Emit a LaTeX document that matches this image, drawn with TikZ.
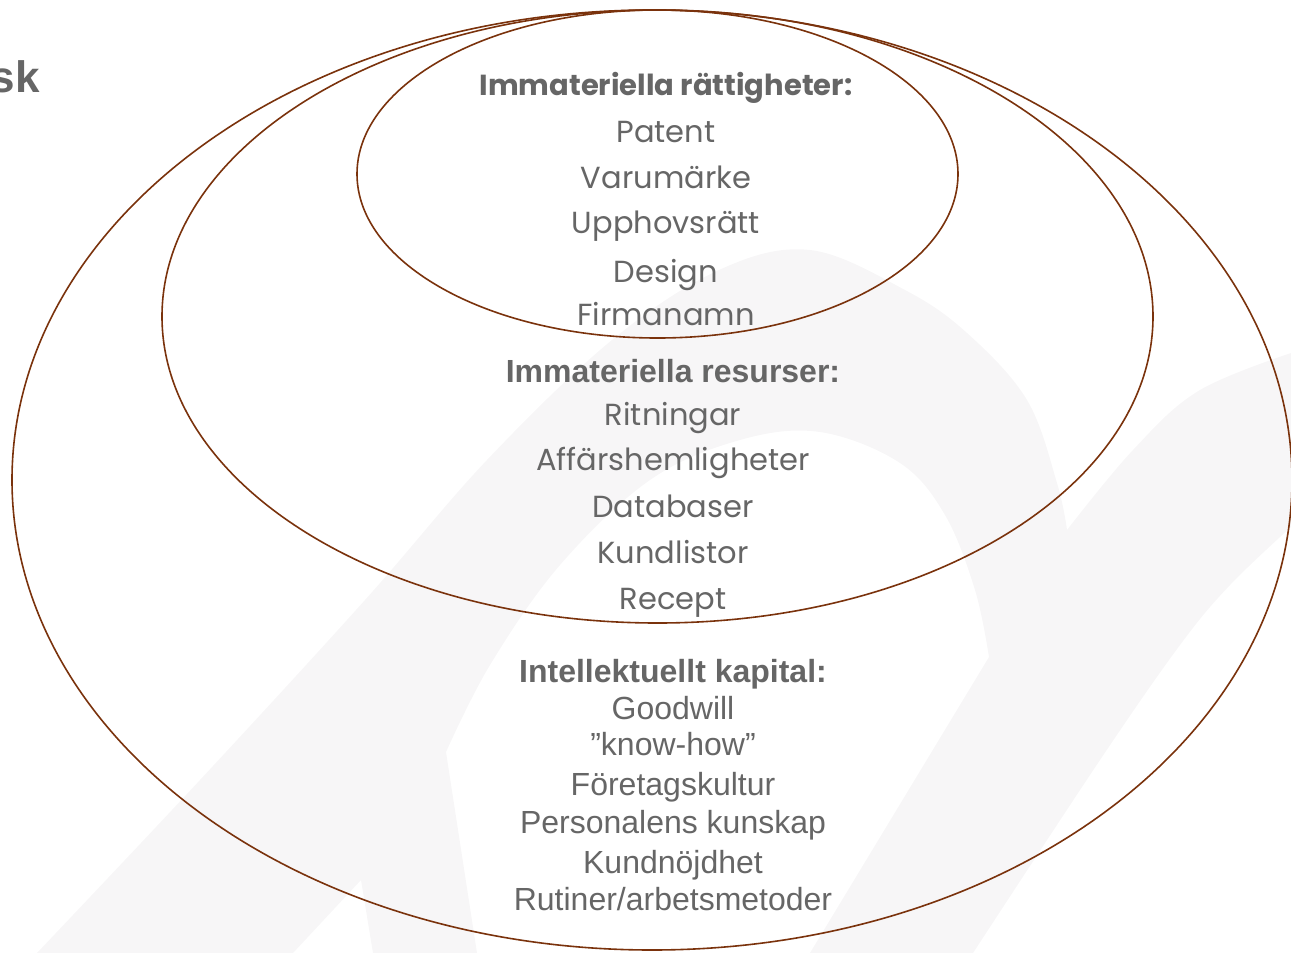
\documentclass[tikz,border=0pt]{standalone}
\usepackage{fontspec}
\setmainfont{Liberation Sans}
\newfontfamily\gothic{Poppins}
\definecolor{ring}{RGB}{122,50,12}
\definecolor{txt}{RGB}{102,102,102}
\definecolor{wm}{RGB}{247,246,247}
\tikzset{
  ringline/.style={draw=ring, line width=1.6pt},
  gothhead/.style={anchor=base, inner sep=0pt, text=txt, font=\gothic\bfseries\fontsize{29}{31}\selectfont},
  gothitem/.style={anchor=base, inner sep=0pt, text=txt, font=\gothic\fontsize{30.5}{32}\selectfont},
  arialhead/.style={anchor=base, inner sep=0pt, text=txt, font=\bfseries\fontsize{32}{34}\selectfont},
  arialitem/.style={anchor=base, inner sep=0pt, text=txt, font=\fontsize{32}{34}\selectfont},
}
\begin{document}
\begin{tikzpicture}[x=1pt,y=-1pt]
\useasboundingbox (0,0) rectangle (1291,953);
\begin{scope}
\clip (0,0) rectangle (1291,953);
% faint watermark
\fill[wm] plot[smooth, tension=0.6] coordinates {(37,953) (200,780) (365,600) (487,460) (612,340) (719,270) (810,250) (905,290) (967,333) (1027,400) (1057,483) (1067,530)}
  -- plot[smooth, tension=0.6] coordinates {(1067,530) (1133,450) (1200,390) (1300,350)}
  -- (1300,520)
  -- plot[smooth, tension=0.6] coordinates {(1291,527) (1230,585) (1180,645) (1100,760) (973,953)}
  -- (810,953) -- (989,657)
  -- plot[smooth, tension=0.6] coordinates {(989,657) (975,590) (945,515) (900,463) (820,432) (740,440) (650,480) (560,565) (490,665) (446,752)}
  -- (477,953) -- (373,953) -- (361,880) -- (293,953) -- cycle;
% rings
\draw[ringline] (652,480) ellipse [x radius=640pt, y radius=470pt];
\draw[ringline] (657.5,316.5) ellipse [x radius=495.5pt, y radius=306.5pt];
\draw[ringline] (657.5,174) ellipse [x radius=300.5pt, y radius=164pt];
\end{scope}
% cut-off title
\node[anchor=base east, inner sep=0pt, text=txt, font=\bfseries\fontsize{44}{46}\selectfont] (title) at (40,92) {sk};
% inner group
\node[gothhead] (h1) at (666,95) {Immateriella rättigheter:};
\node[gothitem] (a1) at (666,142) {Patent};
\node[gothitem] (a2) at (666,188) {Varumärke};
\node[gothitem] (a3) at (666,233) {Upphovsrätt};
\node[gothitem] (a4) at (666,282) {Design};
\node[gothitem] (a5) at (666,325) {Firmanamn};
% middle group
\node[arialhead] (h2) at (673,382) {Immateriella resurser:};
\node[gothitem] (b1) at (673,425) {Ritningar};
\node[gothitem] (b2) at (673,470) {Affärshemligheter};
\node[gothitem] (b3) at (673,517) {Databaser};
\node[gothitem] (b4) at (673,563) {Kundlistor};
\node[gothitem] (b5) at (673,609) {Recept};
% outer group
\node[arialhead] (h3) at (673,682) {Intellektuellt kapital:};
\node[arialitem] (c1) at (673,719) {Goodwill};
\node[arialitem] (c2) at (673,755) {”know-how”};
\node[arialitem] (c3) at (673,795) {Företagskultur};
\node[arialitem] (c4) at (673,833) {Personalens kunskap};
\node[arialitem] (c5) at (673,873) {Kundnöjdhet};
\node[arialitem] (c6) at (673,910) {Rutiner/arbetsmetoder};
\end{tikzpicture}
\end{document}
